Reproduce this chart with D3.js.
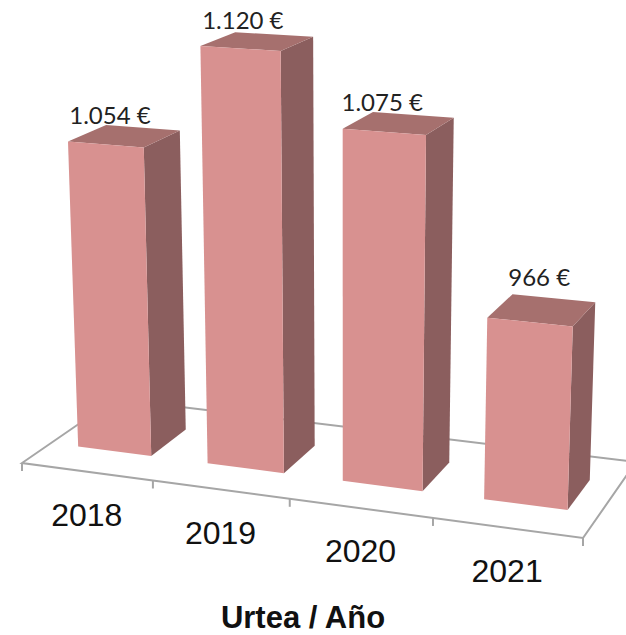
<!DOCTYPE html>
<html>
<head>
<meta charset="utf-8">
<title>Urtea / Año</title>
<script src="https://d3js.org/d3.v7.min.js"></script>
<style>
  html, body { margin: 0; padding: 0; background: #fff; }
  svg { display: block; }
</style>
</head>
<body>
<div id="my_dataviz"></div>
<script>
// data
var years = ["2018", "2019", "2020", "2021"];
var amounts = [1054, 1120, 1075, 966];
var amountLabels = ["1.054 €", "1.120 €", "1.075 €", "966 €"];
var axisTitle = "Urtea / Año";

var width = 626, height = 635;

var svg = d3.select("#my_dataviz").append("svg")
  .attr("width", width)
  .attr("height", height);

// floor corners on screen: front left, front right, back right, back left
var floor = [[22, 463], [583, 538], [636, 462], [115, 399]];
// vanishing point of the vertical edges
var vanish = [345, 8450];

// unit square -> floor quad
function homography(q) {
  var dx1 = q[1][0] - q[2][0], dx2 = q[3][0] - q[2][0], sx = q[0][0] - q[1][0] + q[2][0] - q[3][0];
  var dy1 = q[1][1] - q[2][1], dy2 = q[3][1] - q[2][1], sy = q[0][1] - q[1][1] + q[2][1] - q[3][1];
  var den = dx1 * dy2 - dx2 * dy1;
  var g = (sx * dy2 - dx2 * sy) / den, h = (dx1 * sy - sx * dy1) / den;
  return {
    a: q[1][0] - q[0][0] + g * q[1][0], b: q[3][0] - q[0][0] + h * q[3][0], c: q[0][0],
    d: q[1][1] - q[0][1] + g * q[1][1], e: q[3][1] - q[0][1] + h * q[3][1], f: q[0][1],
    g: g, h: h
  };
}
var H = homography(floor);

// u along the category axis, v into the depth, z from the value scale
function project(u, v, z) {
  var w = H.g * u + H.h * v + 1;
  var X = H.a * u + H.b * v + H.c;
  var Y = H.d * u + H.e * v + H.f;
  return [(X - z * vanish[0]) / (w - z), (Y - z * vanish[1]) / (w - z)];
}

var x = d3.scaleBand().domain(years).range([0, 1]).paddingInner(0.43).paddingOuter(0.215);
var depth = d3.scaleBand().domain(["amount"]).range([0.295, 0.695]);
var y = d3.scaleLinear().domain([850, 1120]).range([0, 0.0496]);

var line = d3.line();
var axisColor = "#a6a6a6";

// floor outline
svg.append("path")
  .attr("d", line([project(0, 1, 0), project(0, 0, 0), project(1, 0, 0), project(1, 1, 0), project(0, 1, 0)]))
  .attr("fill", "none")
  .attr("stroke", axisColor)
  .attr("stroke-width", 2);

// ticks on the front edge
svg.selectAll(".tick")
  .data(d3.range(years.length + 1))
  .enter().append("path")
  .attr("class", "tick")
  .attr("d", function(i) {
    var p = project(i / years.length, 0, 0);
    return line([p, [p[0], p[1] + 8]]);
  })
  .attr("fill", "none")
  .attr("stroke", axisColor)
  .attr("stroke-width", 2);

// bars
var v0 = depth("amount"), v1 = v0 + depth.bandwidth();
var bars = svg.selectAll(".bar")
  .data(years)
  .enter().append("g")
  .attr("class", "bar");

bars.append("path") // right side
  .attr("fill", "#8b5e5e")
  .attr("d", function(d, i) {
    var u1 = x(d) + x.bandwidth(), z = y(amounts[i]);
    return line([project(u1, v0, 0), project(u1, v1, 0), project(u1, v1, z), project(u1, v0, z)]) + "Z";
  });
bars.append("path") // top
  .attr("fill", "#a6706e")
  .attr("d", function(d, i) {
    var u0 = x(d), u1 = u0 + x.bandwidth(), z = y(amounts[i]);
    return line([project(u0, v0, z), project(u1, v0, z), project(u1, v1, z), project(u0, v1, z)]) + "Z";
  });
bars.append("path") // front
  .attr("fill", "#d89190")
  .attr("d", function(d, i) {
    var u0 = x(d), u1 = u0 + x.bandwidth(), z = y(amounts[i]);
    return line([project(u0, v0, 0), project(u1, v0, 0), project(u1, v0, z), project(u0, v0, z)]) + "Z";
  });

// value labels, nudged from the centre of each bar top
var labelShift = [[-15, -12], [-15, -12], [-17, -12], [-3, -24]];
svg.selectAll(".value")
  .data(years)
  .enter().append("text")
  .attr("class", "value")
  .attr("text-anchor", "middle")
  .attr("font-family", "Lato")
  .attr("font-size", 24)
  .attr("fill", "#222")
  .attr("x", function(d, i) {
    return project(x(d) + x.bandwidth() / 2, 0.5, y(amounts[i]))[0] + labelShift[i][0];
  })
  .attr("y", function(d, i) {
    return project(x(d) + x.bandwidth() / 2, 0.5, y(amounts[i]))[1] + labelShift[i][1];
  })
  .text(function(d, i) { return amountLabels[i]; });

// category labels
svg.selectAll(".year")
  .data(years)
  .enter().append("text")
  .attr("class", "year")
  .attr("text-anchor", "middle")
  .attr("font-family", "Liberation Sans")
  .attr("font-size", 32)
  .attr("fill", "#111")
  .attr("x", function(d) { return project(x(d) + x.bandwidth() / 2, 0, 0)[0]; })
  .attr("y", function(d) { return project(x(d) + x.bandwidth() / 2, 0, 0)[1] + 54; })
  .text(function(d) { return d; });

svg.append("text")
  .attr("x", 303)
  .attr("y", 628)
  .attr("text-anchor", "middle")
  .attr("font-family", "Liberation Sans")
  .attr("font-weight", "bold")
  .attr("font-size", 31)
  .attr("fill", "#111")
  .text(axisTitle);
</script>
</body>
</html>
